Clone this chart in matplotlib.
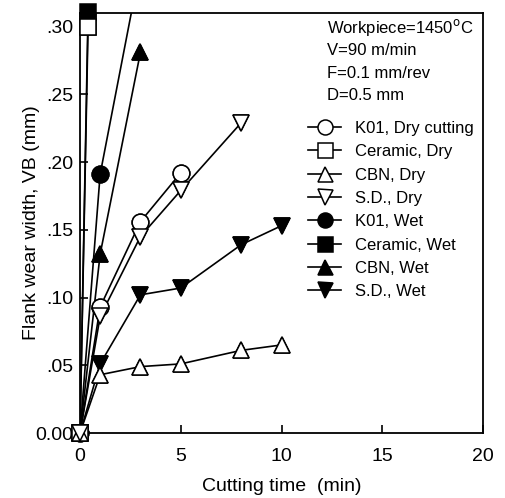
##include library
import matplotlib
matplotlib.use("Agg")
import matplotlib.pyplot as plt
from matplotlib.ticker import FuncFormatter

plt.rcParams['font.family'] = ['Liberation Sans', 'DejaVu Sans']

## data (time in min, flank wear VB in mm)
k01_dry_t = [0, 1, 3, 5]
k01_dry_vb = [0.0, 0.093, 0.156, 0.192]

cer_dry_t = [0, 0.4]
cer_dry_vb = [0.0, 0.300]

cbn_dry_t = [0, 1, 3, 5, 8, 10]
cbn_dry_vb = [0.0, 0.043, 0.049, 0.051, 0.061, 0.065]

sd_dry_t = [0, 1, 3, 5, 8]
sd_dry_vb = [0.0, 0.086, 0.145, 0.179, 0.229]

k01_wet_t = [0, 1, 3]
k01_wet_vb = [0.0, 0.191, 0.345]

cer_wet_t = [0, 0.4]
cer_wet_vb = [0.0, 0.311]

cbn_wet_t = [0, 1, 3]
cbn_wet_vb = [0.0, 0.132, 0.281]

sd_wet_t = [0, 1, 3, 5, 8, 10]
sd_wet_vb = [0.0, 0.051, 0.102, 0.107, 0.139, 0.153]

conditions = ["Workpiece=1450$^{\\rm o}$C", "V=90 m/min", "F=0.1 mm/rev", "D=0.5 mm"]


def ylab(v, pos):
    if abs(v) < 1e-9:
        return "0.00"
    return ("%.2f" % v)[1:]


def plot_func():
    fig = plt.figure(figsize=(5.05, 4.98), dpi=100)
    ax = fig.add_axes([80/505, 1-433/498, (483-80)/505, (433-13)/498])

    series = [
        (k01_dry_t, k01_dry_vb, 'o', 'white', "K01, Dry cutting"),
        (cer_dry_t, cer_dry_vb, 's', 'white', "Ceramic, Dry"),
        (cbn_dry_t, cbn_dry_vb, '^', 'white', "CBN, Dry"),
        (sd_dry_t, sd_dry_vb, 'v', 'white', "S.D., Dry"),
        (k01_wet_t, k01_wet_vb, 'o', 'black', "K01, Wet"),
        (cer_wet_t, cer_wet_vb, 's', 'black', "Ceramic, Wet"),
        (cbn_wet_t, cbn_wet_vb, '^', 'black', "CBN, Wet"),
        (sd_wet_t, sd_wet_vb, 'v', 'black', "S.D., Wet"),
    ]
    for t, vb, m, fc, lab in series:
        ax.plot(t, vb, color='black', lw=1.2, marker=m, ms=12,
                mfc=fc, mec='black', mew=1.1, label=lab)
    # markers drawn unclipped so the top ones sit on the frame
    # (wet first, dry on top, as in the original)
    for t, vb, m, fc, lab in series[4:] + series[:4]:
        pts = [(a, b) for a, b in zip(t, vb) if b <= 0.312]
        ax.plot([p[0] for p in pts], [p[1] for p in pts], ls='none', marker=m,
                ms=12, mfc=fc, mec='black', mew=1.1, clip_on=False, zorder=5)

    ax.set_xlim(0, 20)
    ax.set_ylim(0, 0.31)
    ax.set_xticks([0, 5, 10, 15, 20])
    ax.set_yticks([0, 0.05, 0.10, 0.15, 0.20, 0.25, 0.30])
    ax.yaxis.set_major_formatter(FuncFormatter(ylab))
    ax.tick_params(direction='in', length=6, width=1.2, labelsize=14)
    ax.tick_params(axis='x', pad=11)
    ax.tick_params(axis='y', pad=5)
    for s in ax.spines.values():
        s.set_linewidth(1.3)

    ax.set_xlabel("Cutting time  (min)", fontsize=14, labelpad=9)
    ax.set_ylabel("Flank wear width, VB (mm)", fontsize=14)
    ax.yaxis.set_label_coords(-0.10, 0.5)

    for i, txt in enumerate(conditions):
        fig.text(327/505, 1-(28+22.5*i)/498, txt, fontsize=12, va='center', ha='left')

    ax.legend(loc='upper left', bbox_to_anchor=(308/505, 1-121/498),
              bbox_transform=fig.transFigure, frameon=False, fontsize=12,
              handlelength=2.0, handletextpad=0.8, labelspacing=0.5,
              borderpad=0, borderaxespad=0, markerscale=0.9)

    fig.savefig("out.png", dpi=100)


if __name__ == "__main__":
    plot_func()
